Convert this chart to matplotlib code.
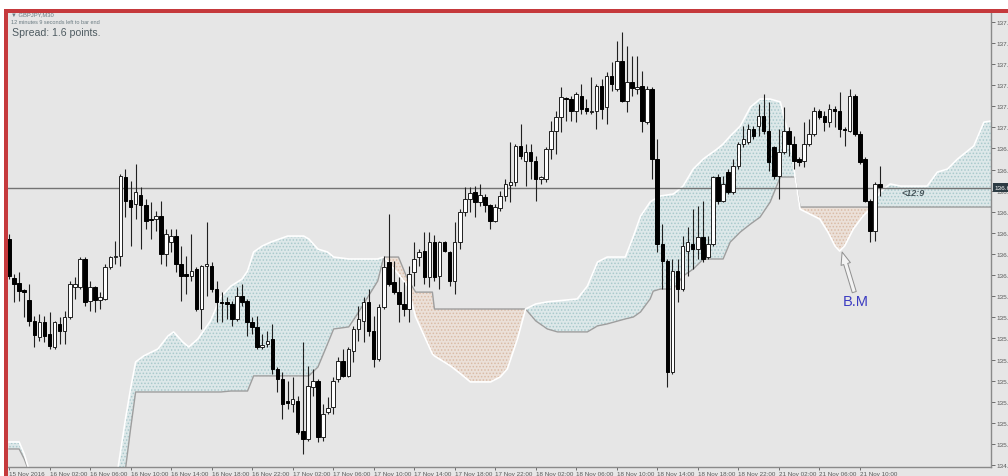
import matplotlib
matplotlib.use('Agg')
import matplotlib.pyplot as plt
import numpy as np
from matplotlib.patches import Rectangle
from matplotlib import transforms

plt.rcParams['font.family'] = ['Liberation Sans', 'DejaVu Sans']
plt.rcParams['hatch.linewidth'] = 0.7

# ---------------- data (GBPJPY, M30) ----------------
opens = [136.317, 136.077, 136.046, 136.003, 135.942, 135.813, 135.714, 135.806, 135.732, 135.652,
         135.794, 135.751, 135.837, 136.021, 136.021, 136.194, 135.936, 136.021, 135.942, 135.948,
         136.144, 136.206, 136.212, 136.699, 136.557, 136.532, 136.588, 136.526, 136.440, 136.440,
         136.458, 136.224, 136.298, 136.335, 136.163, 136.101, 136.089, 136.132, 135.886, 136.150,
         136.150, 136.009, 135.930, 135.930, 135.917, 135.825, 135.966, 135.936, 135.806, 135.776,
         135.652, 135.671, 135.702, 135.517, 135.455, 135.320, 135.301, 135.320, 135.135, 135.086,
         135.406, 135.443, 135.098, 135.252, 135.283, 135.455, 135.566, 135.474, 135.628, 135.763,
         135.813, 135.930, 135.751, 135.579, 135.899, 136.175, 136.052, 135.990, 135.917, 135.886,
         136.113, 136.206, 136.243, 136.083, 136.298, 136.089, 136.298, 136.237, 136.058, 136.298,
         136.483, 136.563, 136.606, 136.545, 136.576, 136.526, 136.428, 136.508, 136.582, 136.649,
         136.668, 136.890, 136.797, 136.853, 136.797, 136.686, 136.686, 136.871, 136.982, 137.068,
         137.185, 137.179, 137.105, 137.198, 137.124, 137.099, 137.105, 137.259, 137.130, 137.321,
         137.241, 137.413, 137.167, 137.284, 137.241, 137.259, 137.037, 137.241, 136.810, 136.286,
         136.181, 135.498, 136.120, 136.009, 136.243, 136.286, 136.255, 136.329, 136.206, 136.286,
         136.699, 136.551, 136.729, 136.606, 136.766, 136.902, 136.914, 136.994, 137.013, 137.074,
         136.982, 136.883, 136.705, 136.853, 136.982, 136.902, 136.810, 136.797, 136.902, 136.963,
         137.105, 137.074, 137.037, 137.117, 137.105, 136.994, 136.982, 137.198, 136.963, 136.810,
         136.551, 136.366, 136.656]
highs = [136.347, 136.101, 136.113, 136.009, 136.040, 135.843, 135.856, 135.843, 135.868, 135.813,
         135.837, 135.874, 136.058, 136.083, 136.206, 136.206, 136.058, 136.027, 135.990, 136.163,
         136.212, 136.304, 136.717, 136.748, 136.674, 136.779, 136.637, 136.563, 136.545, 136.489,
         136.551, 136.378, 136.378, 136.378, 136.274, 136.212, 136.347, 136.144, 136.157, 136.421,
         136.175, 136.058, 135.990, 135.960, 135.936, 136.021, 136.040, 135.948, 135.837, 135.843,
         135.732, 135.751, 135.794, 135.529, 135.498, 135.443, 135.468, 135.351, 135.683, 135.535,
         135.517, 135.455, 135.301, 135.345, 135.468, 135.591, 135.640, 135.652, 135.782, 135.905,
         135.960, 136.009, 135.843, 135.917, 136.212, 136.471, 136.181, 136.083, 136.052, 136.150,
         136.298, 136.255, 136.360, 136.360, 136.341, 136.304, 136.304, 136.243, 136.421, 136.501,
         136.637, 136.637, 136.643, 136.656, 136.594, 136.532, 136.532, 136.612, 136.686, 136.914,
         136.902, 137.025, 136.902, 136.902, 136.828, 136.705, 136.883, 137.044, 137.105, 137.253,
         137.192, 137.198, 137.222, 137.272, 137.179, 137.315, 137.272, 137.302, 137.345, 137.407,
         137.536, 137.592, 137.506, 137.444, 137.444, 137.352, 137.259, 137.253, 136.933, 136.409,
         136.194, 136.194, 136.194, 136.335, 136.391, 136.501, 136.520, 136.551, 136.335, 136.705,
         136.717, 136.705, 136.748, 136.810, 136.914, 137.013, 137.025, 137.013, 137.148, 137.210,
         137.161, 136.890, 136.994, 137.130, 137.007, 136.951, 136.822, 137.037, 137.056, 137.130,
         137.117, 137.105, 137.148, 137.136, 137.222, 137.007, 137.241, 137.210, 136.982, 136.822,
         136.563, 136.668, 136.766]
lows = [136.070, 135.930, 135.936, 135.837, 135.782, 135.652, 135.689, 135.683, 135.640, 135.640,
        135.671, 135.671, 135.825, 135.948, 136.009, 135.905, 135.874, 135.868, 135.886, 135.942,
        136.132, 136.163, 136.150, 136.452, 136.274, 136.440, 136.255, 136.378, 136.317, 136.366,
        136.163, 136.150, 136.237, 136.113, 135.936, 135.978, 136.058, 135.874, 135.763, 135.966,
        135.990, 135.806, 135.806, 135.825, 135.782, 135.813, 135.905, 135.720, 135.732, 135.640,
        135.640, 135.652, 135.486, 135.375, 135.209, 135.270, 135.252, 135.116, 134.993, 135.073,
        135.351, 135.067, 135.073, 135.240, 135.240, 135.437, 135.468, 135.468, 135.560, 135.689,
        135.683, 135.720, 135.529, 135.566, 135.886, 136.027, 135.978, 135.806, 135.843, 135.806,
        136.027, 136.150, 136.040, 136.021, 136.058, 136.009, 136.237, 136.027, 135.978, 136.255,
        136.458, 136.483, 136.452, 136.520, 136.483, 136.378, 136.421, 136.489, 136.551, 136.545,
        136.643, 136.810, 136.643, 136.686, 136.551, 136.656, 136.668, 136.810, 136.840, 136.976,
        137.044, 137.044, 137.037, 137.087, 137.087, 137.087, 136.994, 137.056, 137.025, 137.228,
        137.228, 137.161, 137.099, 137.198, 137.210, 136.976, 137.025, 136.686, 136.237, 136.009,
        135.406, 135.486, 135.930, 135.996, 136.089, 136.132, 136.194, 136.175, 136.194, 136.274,
        136.532, 136.545, 136.594, 136.594, 136.748, 136.883, 136.902, 136.933, 136.951, 136.963,
        136.736, 136.686, 136.563, 136.840, 136.828, 136.748, 136.766, 136.760, 136.890, 136.951,
        137.056, 136.982, 137.007, 137.007, 136.945, 136.890, 136.976, 136.951, 136.779, 136.545,
        136.298, 136.304, 136.582]
closes = [136.089, 136.040, 135.996, 135.990, 135.813, 135.726, 135.806, 135.720, 135.659, 135.806,
          135.751, 135.837, 136.040, 136.040, 136.194, 135.930, 136.021, 135.942, 135.960, 136.144,
          136.206, 136.212, 136.705, 136.551, 136.514, 136.606, 136.526, 136.428, 136.434, 136.458,
          136.224, 136.347, 136.335, 136.163, 136.089, 136.089, 136.120, 135.886, 136.150, 136.163,
          136.009, 135.930, 135.923, 135.917, 135.825, 135.966, 135.930, 135.806, 135.776, 135.652,
          135.665, 135.689, 135.517, 135.455, 135.301, 135.307, 135.332, 135.129, 135.086, 135.412,
          135.443, 135.098, 135.240, 135.277, 135.443, 135.566, 135.474, 135.640, 135.763, 135.825,
          135.930, 135.751, 135.579, 135.899, 136.144, 136.040, 135.990, 135.917, 135.886, 136.101,
          136.194, 136.237, 136.083, 136.298, 136.083, 136.298, 136.243, 136.058, 136.298, 136.483,
          136.563, 136.600, 136.545, 136.588, 136.526, 136.428, 136.514, 136.582, 136.656, 136.668,
          136.890, 136.828, 136.853, 136.797, 136.686, 136.699, 136.871, 136.982, 137.068, 137.192,
          137.179, 137.105, 137.210, 137.117, 137.105, 137.105, 137.259, 137.117, 137.321, 137.272,
          137.413, 137.167, 137.284, 137.247, 137.253, 137.044, 137.241, 136.810, 136.286, 136.181,
          135.498, 136.120, 136.009, 136.274, 136.298, 136.255, 136.329, 136.194, 136.286, 136.699,
          136.551, 136.656, 136.606, 136.766, 136.902, 136.933, 136.994, 136.951, 137.074, 136.982,
          136.791, 136.705, 136.853, 136.982, 136.902, 136.797, 136.791, 136.902, 136.963, 137.105,
          137.068, 137.037, 137.117, 137.105, 136.994, 136.988, 137.198, 136.963, 136.791, 136.551,
          136.366, 136.656, 136.637]

# Ichimoku cloud (bar index of each vertex, Senkou Span A, Senkou Span B)
cloud_idx = [0, 2, 3, 4.5, 21, 21.5, 23, 24, 25, 26.6, 29.4, 31.4, 32.5, 34.3, 35.5, 37.3, 39.8,
             41.8, 43.8, 46, 47.1, 48.3, 50, 51.7, 55, 58.2, 59.2, 61, 62.9, 64.1, 67.1, 68.8,
             72.8, 74, 76.9, 78.7, 80.3, 83.6, 84, 87.2, 89.2, 91.1, 95.1, 97, 98.4, 100.4, 102,
             104, 106.3, 108.3, 112.2, 114.2, 116.2, 118.1, 121.7, 123.3, 124.7, 126.6, 127.2,
             128.6, 131.2, 133.1, 135.1, 137.1, 139.8, 141, 142.4, 144.4, 146.4, 148.3, 150.3,
             152.3, 153.6, 154.6, 155.2, 156.2, 160.1, 161.7, 163.1, 164, 165, 166.7, 168.6, 170,
             172, 174, 176, 181.3, 182.3, 183.3, 185.3, 187.3, 190.5, 192.5, 194]
span_a = [135.067, 135.067, 134.993, 134.839, 134.839, 134.901, 135.209, 135.394, 135.560, 135.597,
          135.640, 135.720, 135.745, 135.683, 135.652, 135.702, 135.813, 135.960, 136.027, 136.070,
          136.120, 136.237, 136.274, 136.298, 136.335, 136.335, 136.317, 136.255, 136.237, 136.206,
          136.194, 136.194, 136.194, 136.206, 136.101, 136.027, 135.837, 135.609, 135.597, 135.535,
          135.486, 135.437, 135.437, 135.468, 135.517, 135.702, 135.886, 135.917, 135.930, 135.936,
          135.948, 136.027, 136.175, 136.206, 136.206, 136.335, 136.458, 136.545, 136.557, 136.582,
          136.594, 136.643, 136.748, 136.810, 136.871, 136.902, 136.951, 137.013, 137.130, 137.179,
          137.179, 137.161, 136.994, 136.853, 136.699, 136.501, 136.440, 136.360, 136.274, 136.243,
          136.274, 136.378, 136.458, 136.501, 136.606, 136.656, 136.643, 136.643, 136.686, 136.729,
          136.748, 136.810, 136.890, 137.037, 137.044]
span_b = [135.024, 135.024, 134.963, 134.839, 134.809, 134.809, 134.901, 135.147, 135.375, 135.375,
          135.375, 135.375, 135.375, 135.375, 135.375, 135.375, 135.375, 135.375, 135.381, 135.381,
          135.381, 135.474, 135.474, 135.474, 135.474, 135.474, 135.474, 135.529, 135.671, 135.763,
          135.776, 135.856, 136.058, 136.206, 136.206, 136.070, 135.990, 135.990, 135.886, 135.886,
          135.886, 135.886, 135.886, 135.886, 135.886, 135.886, 135.886, 135.813, 135.763, 135.745,
          135.745, 135.745, 135.782, 135.794, 135.825, 135.837, 135.868, 135.948, 135.996, 136.009,
          136.009, 136.089, 136.132, 136.194, 136.194, 136.194, 136.298, 136.360, 136.409, 136.452,
          136.545, 136.699, 136.699, 136.699, 136.699, 136.514, 136.514, 136.514, 136.514, 136.514,
          136.514, 136.514, 136.514, 136.514, 136.514, 136.514, 136.514, 136.514, 136.514, 136.514,
          136.514, 136.514, 136.514, 136.514, 136.514]

bid = 136.632
bid_label = '136.632'
price_ticks = [134.925, 135.055, 135.185, 135.315, 135.445, 135.575, 135.705, 135.835, 135.965,
               136.095, 136.225, 136.355, 136.485, 136.615, 136.745, 136.875, 137.005, 137.135,
               137.265, 137.395, 137.525, 137.655]
time_tick_idx = [0, 8, 16, 24, 32, 40, 48, 56, 64, 72, 80, 88, 96, 104, 112, 120, 128, 136, 144,
                 152, 160, 168]
time_tick_labels = ['15 Nov 2016', '16 Nov 02:00', '16 Nov 06:00', '16 Nov 10:00', '16 Nov 14:00',
                    '16 Nov 18:00', '16 Nov 22:00', '17 Nov 02:00', '17 Nov 06:00', '17 Nov 10:00',
                    '17 Nov 14:00', '17 Nov 18:00', '17 Nov 22:00', '18 Nov 02:00', '18 Nov 06:00',
                    '18 Nov 10:00', '18 Nov 14:00', '18 Nov 18:00', '18 Nov 22:00', '21 Nov 02:00',
                    '21 Nov 06:00', '21 Nov 10:00']

# ---------------- figure ----------------
W, H = 1008, 477
BG = '#e6e6e6'
fig = plt.figure(figsize=(W / 100, H / 100), dpi=100, facecolor=BG)
ax = fig.add_axes([8 / W, 9 / H, 983 / W, 454 / H])
ax.set_facecolor(BG)
ax.set_xlim(-0.2, 193.9)
ax.set_ylim(134.913, 137.709)

# cloud
ci = np.array(cloud_idx)
sa = np.array(span_a)
sb = np.array(span_b)
ax.fill_between(ci, sa, sb, where=sa >= sb, interpolate=True, facecolor='#dde8e9',
                edgecolor='#a9c9cc', hatch='.....', linewidth=0, zorder=1)
ax.fill_between(ci, sa, sb, where=sa < sb, interpolate=True, facecolor='#ebe0d8',
                edgecolor='#d9bba6', hatch='.....', linewidth=0, zorder=1)
ax.plot(ci, sb, color='#9e9e9e', lw=1.0, zorder=2)
ax.plot(ci, sa, color='white', lw=1.2, zorder=2)

# bid line
ax.axhline(bid, color='#737373', lw=1.0, zorder=2.5)

# candles
o = np.array(opens); h = np.array(highs); l = np.array(lows); c = np.array(closes)
x = np.arange(len(o))
up = c > o
ax.vlines(x, l, h, color='#202020', lw=0.8, zorder=3)
bb = np.minimum(o, c)
bh = np.maximum(np.abs(c - o), 0.004)
ax.bar(x[up], bh[up], bottom=bb[up], width=0.7, color='white', edgecolor='#202020',
       linewidth=0.7, zorder=4)
ax.bar(x[~up], bh[~up], bottom=bb[~up], width=0.7, color='black', edgecolor='black',
       linewidth=0.7, zorder=4)

# axes styling
for s in ['top', 'left']:
    ax.spines[s].set_visible(False)
for s in ['right', 'bottom']:
    ax.spines[s].set_color('#8a8a8a')
    ax.spines[s].set_linewidth(1.0)
ax.yaxis.tick_right()
ax.set_yticks(price_ticks)
ax.set_yticklabels(['%.3f' % v for v in price_ticks])
ax.tick_params(axis='y', labelsize=4.6, colors='#5a5a5a', length=3, width=0.6, pad=1)
ax.set_xticks(time_tick_idx)
ax.set_xticklabels(time_tick_labels)
ax.tick_params(axis='x', labelsize=4.5, colors='#5a5a5a', length=2, width=0.6, pad=1)
for lab in ax.get_xticklabels():
    lab.set_ha('left')

# bid price box
tr = transforms.blended_transform_factory(ax.transAxes, ax.transData)
ax.text(1.004, bid, bid_label, transform=tr, ha='left', va='center', fontsize=4.6,
        color='white', bbox=dict(boxstyle='square,pad=0.3', fc='#2c3b43', ec='none'),
        clip_on=False, zorder=10)

# annotations
ax.text(176.3, 136.603, '<12:9', fontsize=6.5, style='italic', weight='bold',
        color='#46555a', ha='left', va='center', zorder=6)
ax.annotate('', xy=(164.5, 136.237), xytext=(166.9, 135.99),
            arrowprops=dict(arrowstyle='simple,head_width=0.7,head_length=0.9,tail_width=0.3',
                            fc='#f3f3f3', ec='#8f8f8f', lw=0.7, shrinkA=0, shrinkB=0,
                            mutation_scale=10), zorder=7)
ax.text(167.1, 135.936, 'B.M', fontsize=10.5, color='#3c3cc2', ha='center', va='center', zorder=7)

# header texts
fig.text(11 / W, 1 - 15 / H, '\u25bc GBPJPY,M30', fontsize=4.2, color='#6b7b82', va='center')
fig.text(11 / W, 1 - 23 / H, '12 minutes 9 seconds left to bar end', fontsize=4.0,
         color='#6b7b82', va='center')
fig.text(12 / W, 1 - 33 / H, 'Spread: 1.6 points.', fontsize=7.6, color='#4e5b61', va='center')

# white margins and red frame
fig.patches.append(Rectangle((0, (H - 10) / H), 1, 10 / H, transform=fig.transFigure,
                             facecolor='white', edgecolor='none', zorder=19))
fig.patches.append(Rectangle((0, 0), 4 / W, 1, transform=fig.transFigure,
                             facecolor='white', edgecolor='none', zorder=19))
RED = '#c5393c'
fig.patches.append(Rectangle((4 / W, 0), 4 / W, (H - 10) / H, transform=fig.transFigure,
                             facecolor=RED, edgecolor='none', zorder=20))
fig.patches.append(Rectangle((4 / W, (H - 14) / H), (W - 4) / W, 4 / H, transform=fig.transFigure,
                             facecolor=RED, edgecolor='none', zorder=20))

fig.savefig('out.png', dpi=100, facecolor=BG)
